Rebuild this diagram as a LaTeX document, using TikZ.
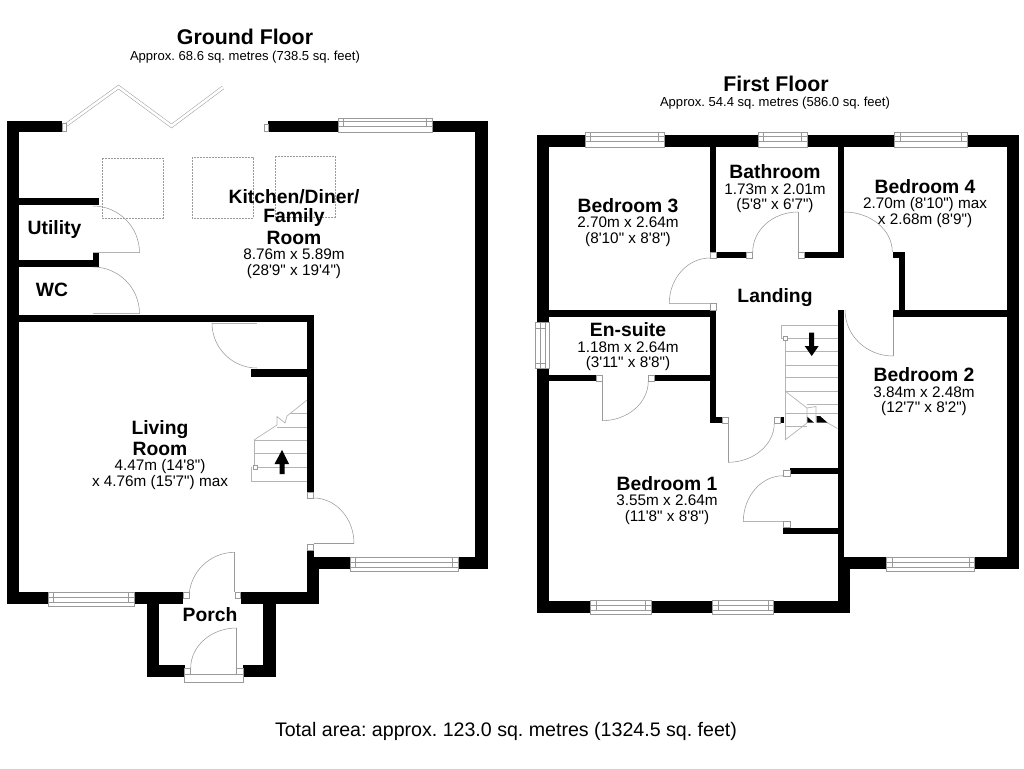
\documentclass[tikz,border=0pt]{standalone}
\usepackage{fontspec}
\setmainfont[Ligatures=TeXOff]{Liberation Sans}
\frenchspacing
\definecolor{linegray}{HTML}{9A9A9A}
\definecolor{leafgray}{HTML}{B4B4B4}
\newcommand{\titlef}{\bfseries\fontsize{21.3}{24}\selectfont}
\newcommand{\subf}{\fontsize{13.05}{15}\selectfont}
\newcommand{\namef}{\bfseries\fontsize{19.3}{15.5}\selectfont}
\newcommand{\dimf}{\fontsize{15.3}{15.5}\selectfont}
\newcommand{\hwin}[6]{% x1 x2 outer-y1 outer-y2 inner-y1 inner-y2
  \draw[glass] (#1,#3) rectangle (#2,#4);
  \draw[glass] (#1,#5) -- (#2,#5) (#1,#6) -- (#2,#6);
  \draw[glass] (#1+5.5,#5) rectangle (#2-5.5,#6);
  \draw[glass] (#1+5.5,#3) -- (#1+5.5,#5) (#2-5.5,#3) -- (#2-5.5,#5);
}
\tikzset{
  wall/.style={fill=black},
  glass/.style={draw=linegray,line width=.5pt,fill=none},
  jamb/.style={draw=linegray,line width=.5pt,fill=white},
  swing/.style={draw=linegray,line width=.55pt},
  leaf/.style={draw=leafgray,line width=.8pt},
  tread/.style={draw=leafgray,line width=.7pt},
  roof/.style={draw=linegray,line width=.6pt,dashed,dash pattern=on 1.6pt off 1.4pt},
  room/.style={align=center,font=\dimf,inner sep=0pt},
  roomname/.style={font=\namef,inner sep=0pt},
  bigtitle/.style={font=\titlef,inner sep=0pt},
  subtitle/.style={font=\subf,inner sep=0pt},
  goarrow/.style={fill=black}
}
\begin{document}
\begin{tikzpicture}[x=1pt,y=-1pt]
\useasboundingbox (0,0) rectangle (1024,768);
% ---------- Ground floor walls
\fill[wall] (7,121) rectangle (19,604);
\fill[wall] (7,121) rectangle (62,132);
\fill[wall] (268,121) rectangle (338,132);
\fill[wall] (432,121) rectangle (488,132);
\fill[wall] (475,121) rectangle (488,569);
\fill[wall] (458,557) rectangle (488,569);
\fill[wall] (313,557) rectangle (350,569);
\fill[wall] (307,550) rectangle (313.5,592);
\fill[wall] (313.5,569) rectangle (319,604);
\fill[wall] (7,592) rectangle (48,604);
\fill[wall] (134,592) rectangle (183,604);
\fill[wall] (240.5,592) rectangle (319,604);
\fill[wall] (147,592) rectangle (159,677);
\fill[wall] (147,665) rectangle (184.5,677);
\fill[wall] (243,665) rectangle (276,677);
\fill[wall] (263,592) rectangle (276,677);
\fill[wall] (19,315) rectangle (313.5,322);
\fill[wall] (307,315) rectangle (313.5,492);
\fill[wall] (251,369) rectangle (307,377);
\fill[wall] (19,198) rectangle (99,205);
\fill[wall] (19,260) rectangle (99,267);
\fill[wall] (93,253) rectangle (99,267);
% ---------- Ground floor windows
\hwin{48}{134}{592}{606}{597.3}{602.3}
\hwin{338}{432}{118}{132}{121.5}{126.5}
\hwin{350}{458}{557}{571.5}{562}{567}
% bifold door
\draw[draw=linegray,line width=.5pt,double=white,double distance=2.6pt] (66,125) -- (118.5,87) -- (171.5,126) -- (223,87.5);
\draw[jamb] (62,123) rectangle (66,131);
\draw[jamb] (264,124) rectangle (268,131);
% roof lights
\draw[roof] (102,158) rectangle (163,218);
\draw[roof] (192,157) rectangle (253,218);
\draw[roof] (275,156) rectangle (335,217);
% ground doors
\draw[leaf] (93,252.7) -- (139.5,252.7);
\draw[swing] (139.5,252.7) arc[start angle=0,end angle=90,x radius=46.5pt,y radius=46.7pt];
\draw[leaf] (93,313.7) -- (139.5,313.7);
\draw[swing] (139.5,313.7) arc[start angle=0,end angle=90,x radius=46.5pt,y radius=46.7pt];
\draw[leaf] (212,323) -- (257,323);
\draw[swing] (212,323) arc[start angle=180,end angle=270,radius=45pt];
\draw[swing] (313.5,543.5) -- (354,543.5);
\draw[swing] (354,543.5) arc[start angle=0,end angle=90,x radius=40.5pt,y radius=45.5pt];
\draw[swing] (234.7,552.3) -- (234.7,592);
\draw[swing] (189,598) arc[start angle=180,end angle=90,x radius=45.7pt,y radius=45.7pt];
\draw[swing] (236.7,628) -- (236.7,668);
\draw[swing] (190.7,668) arc[start angle=180,end angle=90,x radius=46pt,y radius=40pt];
\draw[jamb] (307,492) rectangle (313.5,498);
\draw[jamb] (307,544) rectangle (313.5,550);
\draw[jamb] (183,592) rectangle (189,598);
\draw[jamb] (235,592) rectangle (240.5,598);
\draw[jamb] (184.5,668) rectangle (190.7,674);
\draw[jamb] (236.7,668) rectangle (243,674);
\draw[glass] (184.5,674) rectangle (243,682);
% ground stairs
\draw[tread] (290,413) -- (307,413) (277,427) -- (307,427) (254,440) -- (307,440)
  (254,453) -- (307,453) (254,467) -- (307,467) (251,481) -- (307,481);
\draw[tread] (251,467) -- (251,481) (254,440) -- (254,467);
\draw[tread] (254,440) -- (277,425) -- (277,416.5) -- (285,423) -- (287,416) -- (307,400);
\draw[jamb] (253,465) rectangle (257,469);
\fill[goarrow] (279.5,474) -- (279.5,464) -- (274.5,464) -- (282,450) -- (289,464) -- (284.5,464) -- (284.5,474) -- cycle;
% ---------- First floor walls
\fill[wall] (537,135) rectangle (549,323);
\fill[wall] (537,369) rectangle (549,612.7);
\fill[wall] (537,135) rectangle (585,147);
\fill[wall] (664,135) rectangle (758,147);
\fill[wall] (807,135) rectangle (894.3,147);
\fill[wall] (967,135) rectangle (1019,147);
\fill[wall] (1007,135) rectangle (1019,569);
\fill[wall] (974,557) rectangle (1019,569);
\fill[wall] (844,557) rectangle (887,569);
\fill[wall] (537,600.5) rectangle (591,612.7);
\fill[wall] (651,600.5) rectangle (712.7,612.7);
\fill[wall] (773.3,600.5) rectangle (850,612.7);
\fill[wall] (838,310) rectangle (844,612.7);
\fill[wall] (844,557) rectangle (850,612.7);
\fill[wall] (710,147) rectangle (716,252);
\fill[wall] (716,252) rectangle (746.7,258);
\fill[wall] (804,252) rectangle (844,258);
\fill[wall] (838,147) rectangle (844,258);
\fill[wall] (892.7,252) rectangle (905,258);
\fill[wall] (899,252) rectangle (905,317);
\fill[wall] (892.7,310) rectangle (1007,317);
\fill[wall] (549,310) rectangle (716,317);
\fill[wall] (710,310) rectangle (716,423);
\fill[wall] (549,375) rectangle (596,381);
\fill[wall] (654.3,375) rectangle (710,381);
\fill[wall] (710,417) rectangle (722,423);
\fill[wall] (790,468.3) rectangle (838,474.3);
\fill[wall] (783.3,527.7) rectangle (838,534);
\fill[wall] (780,417) rectangle (784,423);
% ---------- First floor windows
\hwin{585}{664}{132.3}{147}{136}{141}
\hwin{758}{807}{132.3}{147}{136}{141}
\hwin{894.3}{967}{132.3}{147}{136}{141}
\hwin{886.7}{974.3}{557}{571.5}{562}{567}
\hwin{590.7}{651}{600.5}{614.5}{605.5}{610.5}
\hwin{712.7}{773.3}{600.5}{614.5}{605.5}{610.5}
\draw[glass] (535,322.7) rectangle (549,368.3);
\draw[glass] (540,322.7) -- (540,368.3) (545,322.7) -- (545,368.3);
\draw[glass] (540,328) rectangle (545,363);
\draw[glass] (535,328) -- (540,328) (535,363) -- (540,363);
% first floor doors
\draw[swing] (798,212) -- (798,252);
\draw[swing] (752.7,252) arc[start angle=180,end angle=90,x radius=45.3pt,y radius=40pt];
\draw[swing] (844,212) arc[start angle=90,end angle=0,x radius=48.3pt,y radius=40pt];
\draw[leaf] (669.3,303.3) -- (710,303.3);
\draw[swing] (710,258) arc[start angle=90,end angle=180,x radius=40.7pt,y radius=45.3pt];
\draw[swing] (893,317) -- (893,356);
\draw[swing] (845,310) arc[start angle=180,end angle=270,x radius=48pt,y radius=46pt];
\draw[swing] (602,381) -- (602,420.7);
\draw[swing] (602,420.7) arc[start angle=270,end angle=360,x radius=46.3pt,y radius=39.7pt];
\draw[swing] (728,423) -- (728,462.3);
\draw[swing] (728,462.3) arc[start angle=270,end angle=360,x radius=46.3pt,y radius=39.3pt];
\draw[leaf] (743.3,521.7) -- (783.3,521.7);
\draw[swing] (743.3,521.7) arc[start angle=180,end angle=90,x radius=40pt,y radius=46pt];
\draw[jamb] (710,252) rectangle (716,258);
\draw[jamb] (746.7,252) rectangle (752.7,258);
\draw[jamb] (798,252) rectangle (804,258);
\draw[jamb] (710,303.5) rectangle (716,310);
\draw[jamb] (596,375) rectangle (602,381);
\draw[jamb] (648.3,375) rectangle (654.3,381);
\draw[jamb] (722,417) rectangle (728,423);
\draw[jamb] (774.3,417) rectangle (780,423);
\draw[jamb] (783.3,470) rectangle (790,476);
\draw[jamb] (783.3,521.7) rectangle (790,527.7);
% first floor stairs
\draw[tread] (838,325) -- (781.7,325) -- (781.7,338) -- (838,338);
\draw[tread] (785,338) -- (785,440);
\draw[tread] (785,351.7) -- (838,351.7) (785,365) -- (838,365) (785,377.7) -- (838,377.7)
  (785,391) -- (838,391) (807,404) -- (838,404) (785,413) -- (838,413) (785,426.7) -- (807,426.7);
\draw[tread] (785,391) -- (807,408) -- (807,423) -- (785,440);
\draw[tread] (807,408) -- (816,406.5) -- (816,422);
\draw[tread] (816.7,416.7) -- (837.5,428.5);
\draw[jamb] (783,336) rectangle (787,340);
\fill[wall] (807.3,416.7) -- (814,422.7) -- (807.3,422.7) -- cycle;
\fill[wall] (816.7,416) -- (820,416) -- (827.5,422.7) -- (816.7,422.7) -- cycle;
\fill[goarrow] (809.2,332.7) -- (809.2,346) -- (804.7,346) -- (811.7,356) -- (818.7,346) -- (814.2,346) -- (814.2,332.7) -- cycle;
% ---------- Texts
\node[bigtitle] (gftitle) at (245,36.5) {Ground Floor};
\node[subtitle] (gfsub) at (245,57) {Approx. 68.6 sq. metres (738.5 sq. feet)};
\node[bigtitle] (fftitle) at (776,84) {First Floor};
\node[subtitle] (ffsub) at (775,103) {Approx. 54.4 sq. metres (586.0 sq. feet)};
\node[inner sep=0pt,font=\fontsize{19.6}{22}\selectfont] (total) at (506,731) {Total area: approx. 123.0 sq. metres (1324.5 sq. feet)};
\node[room] (kitchen) at (294,234) {{\namef Kitchen/Diner/}\\[3.5pt]{\namef Family}\\[3.5pt]{\namef Room}\\8.76m x 5.89m\\(28'9" x 19'4")};
\node[roomname] (utility) at (54.5,229.5) {Utility};
\node[roomname] (wc) at (52,290) {WC};
\node[room] (living) at (160,455) {{\namef Living}\\[2pt]{\namef Room}\\4.47m (14'8")\\x 4.76m (15'7") max};
\node[roomname] (porch) at (210,615) {Porch};
\node[room] (bed3) at (628,222.5) {{\namef Bedroom 3}\\2.70m x 2.64m\\(8'10" x 8'8")};
\node[room] (bath) at (775,189) {{\namef Bathroom}\\1.73m x 2.01m\\(5'8" x 6'7")};
\node[room] (bed4) at (925,203.5) {{\namef Bedroom 4}\\2.70m (8'10") max\\x 2.68m (8'9")};
\node[roomname] (landing) at (775,297.5) {Landing};
\node[room] (ensuite) at (628,347) {{\namef En-suite}\\1.18m x 2.64m\\(3'11" x 8'8")};
\node[room] (bed2) at (924,392) {{\namef Bedroom 2}\\3.84m x 2.48m\\(12'7" x 8'2")};
\node[room] (bed1) at (667,500.5) {{\namef Bedroom 1}\\3.55m x 2.64m\\(11'8" x 8'8")};
\end{tikzpicture}
\end{document}
